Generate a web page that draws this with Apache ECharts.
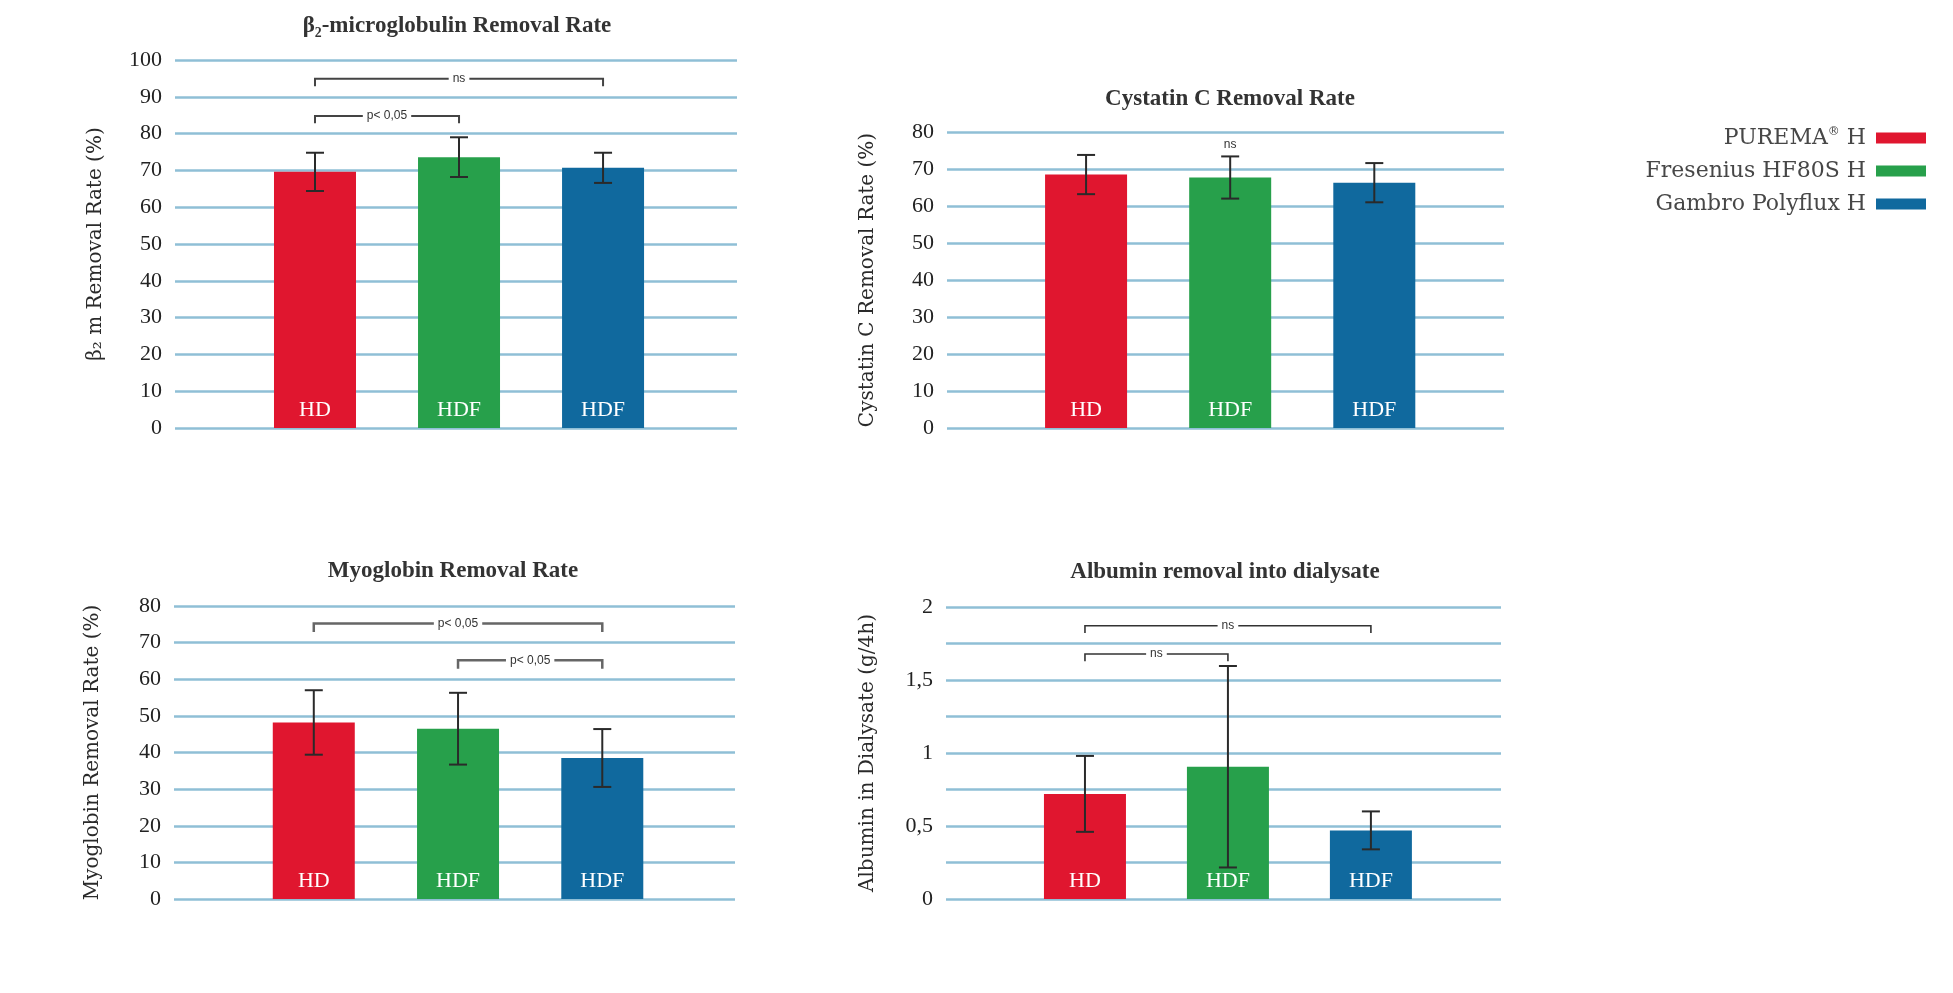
<!DOCTYPE html>
<html><head><meta charset="utf-8">
<script src="https://cdn.jsdelivr.net/npm/echarts@6/dist/echarts.min.js"></script>
<style>html,body{margin:0;padding:0;background:#fff}#c{width:1953px;height:993px}</style>
</head><body><div id="c"></div>
<script>
// ---- data ----
const membranes = ['PUREMA® H', 'Fresenius HF80S H', 'Gambro Polyflux H'];
const modes = ['HD', 'HDF', 'HDF'];
const b2mMean = [69.6, 73.6, 70.7];
const b2mSD = [5.2, 5.4, 4.1];
const cysMean = [68.5, 67.7, 66.3];
const cysSD = [5.3, 5.7, 5.3];
const myoMean = [48.2, 46.5, 38.5];
const myoSD = [8.8, 9.8, 7.9];
const albMean = [0.72, 0.906, 0.47];
const albSD = [0.26, 0.69, 0.13];
// brackets: [from category, to category, level, tick drop, text]
const b2mBrackets = [[0, 2, 94.9, 2, 'ns'], [0, 1, 84.8, 2, 'p< 0,05']];
const cysBrackets = [[1, 1, 76.7, 0, 'ns']];
const myoBrackets = [[0, 2, 75.2, 2.3, 'p< 0,05'], [1, 2, 65.2, 2.3, 'p< 0,05']];
const albBrackets = [[0, 2, 1.872, 0.05, 'ns'], [0, 1, 1.678, 0.05, 'ns']];
const yTicks100 = [0, 100, 10];
const yTicks80 = [0, 80, 10];
const yTicksAlb = [0, 2, 0.25];

// ---- styles / layout ----
const colors = ['#e0162f', '#27a04b', '#10699e'];
const panels = [
  {title: 'β₂-microglobulin Removal Rate', yName: 'β₂ m Removal Rate (%)', mean: b2mMean, sd: b2mSD, br: b2mBrackets, ticks: yTicks100,
   left: 175, width: 562, top: 60, height: 368, xmin: 0.028, xmax: 3.93, tx: 452, ty: 10, gap: 69, brColor: '#444', brW: 2},
  {title: 'Cystatin C Removal Rate', yName: 'Cystatin C Removal Rate (%)', mean: cysMean, sd: cysSD, br: cysBrackets, ticks: yTicks80,
   left: 947, width: 557, top: 132, height: 296, xmin: 0.035, xmax: 3.90, tx: 1225, ty: 83, gap: 69, brColor: '#444', brW: 2},
  {title: 'Myoglobin Removal Rate', yName: 'Myoglobin Removal Rate (%)', mean: myoMean, sd: myoSD, br: myoBrackets, ticks: yTicks80,
   left: 174, width: 561, top: 606, height: 293, xmin: 0.031, xmax: 3.92, tx: 448, ty: 555, gap: 71, brColor: '#666', brW: 2.5},
  {title: 'Albumin removal into dialysate', yName: 'Albumin in Dialysate (g/4h)', mean: albMean, sd: albSD, br: albBrackets, ticks: yTicksAlb,
   left: 946, width: 555, top: 607, height: 292, xmin: 0.028, xmax: 3.91, tx: 1220, ty: 556, gap: 68, brColor: '#333', brW: 1.6,
   fmt: v => (Math.abs(v * 2 - Math.round(v * 2)) < 1e-9) ? String(v).replace('.', ',') : ''}
];

const option = {
  animation: false,
  backgroundColor: '#fff',
  title: [], grid: [], xAxis: [], yAxis: [], series: [],
  legend: {
    data: membranes, orient: 'vertical', right: 22, top: 121, align: 'right', icon: 'rect',
    itemWidth: 50, itemHeight: 11, itemGap: 11,
    formatter: name => name.split('®').map(s => '{t|' + s + '}').join('{s|®}') + '{g|}',
    textStyle: {
      fontFamily: 'DejaVu Serif', fontSize: 22, color: '#474747',
      rich: {
        t: {fontFamily: 'DejaVu Serif', fontSize: 22, color: '#474747', lineHeight: 24},
        s: {fontFamily: 'DejaVu Sans', fontSize: 12, color: '#474747', verticalAlign: 'top', lineHeight: 24, padding: [0, 0, 10, 0]},
        g: {width: 5, lineHeight: 24}
      }
    }
  }
};

panels.forEach((p, k) => {
  option.title.push({
    text: p.title, left: p.tx, top: p.ty, textAlign: 'center',
    textStyle: {fontFamily: 'Liberation Serif', fontWeight: 'bold', fontSize: 23, color: '#333'}
  });
  option.grid.push({left: p.left, top: p.top, width: p.width, height: p.height, containLabel: false});
  option.xAxis.push({
    type: 'value', gridIndex: k, min: p.xmin, max: p.xmax,
    axisLine: {show: false}, axisTick: {show: false}, axisLabel: {show: false}, splitLine: {show: false}
  });
  option.yAxis.push({
    type: 'value', gridIndex: k, min: p.ticks[0], max: p.ticks[1], interval: p.ticks[2],
    name: p.yName, nameLocation: 'middle', nameGap: p.gap, nameRotate: 90,
    nameTextStyle: {fontFamily: 'DejaVu Serif', fontSize: 20, color: '#2a2a2a'},
    axisLine: {show: false}, axisTick: {show: false},
    axisLabel: {fontFamily: 'Liberation Serif', fontSize: 22, color: '#222', margin: 13, formatter: p.fmt},
    splitLine: {show: true, lineStyle: {color: '#8fbfd6', width: 2.5}}
  });
  membranes.forEach((m, i) => {
    option.series.push({
      type: 'bar', name: m, xAxisIndex: k, yAxisIndex: k,
      data: [[i + 1, p.mean[i]]], barWidth: 82, barGap: '-100%',
      itemStyle: {color: colors[i]},
      label: {show: true, position: 'insideBottom', distance: 7, formatter: modes[i],
        color: '#fff', fontFamily: 'Liberation Serif', fontSize: 22},
      z: 2
    });
  });
  // error bars
  option.series.push({
    type: 'custom', xAxisIndex: k, yAxisIndex: k, z: 5,
    data: p.mean.map((v, i) => [i + 1, v - p.sd[i], v + p.sd[i]]),
    encode: {x: 0, y: [1, 2]},
    renderItem: (params, api) => {
      const x = api.value(0);
      const top = api.coord([x, api.value(2)]);
      const bot = api.coord([x, api.value(1)]);
      const c = 9, st = {stroke: '#2a2a2a', lineWidth: 2};
      return {type: 'group', children: [
        {type: 'line', shape: {x1: top[0], y1: top[1], x2: bot[0], y2: bot[1]}, style: st},
        {type: 'line', shape: {x1: top[0] - c, y1: top[1], x2: top[0] + c, y2: top[1]}, style: st},
        {type: 'line', shape: {x1: bot[0] - c, y1: bot[1], x2: bot[0] + c, y2: bot[1]}, style: st}
      ]};
    }
  });
  // significance brackets
  const br = p.br;
  option.series.push({
    type: 'custom', xAxisIndex: k, yAxisIndex: k, z: 6,
    data: br.map(b => [b[0] + 1, b[1] + 1, b[2], b[2] - b[3]]),
    encode: {x: [0, 1], y: [2, 3]},
    renderItem: (params, api) => {
      const x1 = api.value(0), x2 = api.value(1), lv = api.value(2), dr = api.value(3);
      const a = api.coord([x1, lv]), b = api.coord([x2, lv]);
      const yd = api.coord([x1, dr])[1];
      const children = [];
      if (x1 !== x2) {
        children.push({type: 'polyline', shape: {points: [[a[0], yd], a, b, [b[0], yd]]},
          style: {stroke: p.brColor, lineWidth: p.brW, fill: null}});
      }
      children.push({type: 'text', x: (a[0] + b[0]) / 2, y: a[1], z2: 10,
        style: {text: br[params.dataIndex][4], fill: '#333', font: '12px "Liberation Sans"',
          align: 'center', verticalAlign: 'middle', backgroundColor: x1 !== x2 ? '#fff' : null, padding: [1, 4]}});
      return {type: 'group', children};
    }
  });
});

const chart = echarts.init(document.getElementById('c'), null, {renderer: 'canvas'});
chart.setOption(option);
</script>
</body></html>
